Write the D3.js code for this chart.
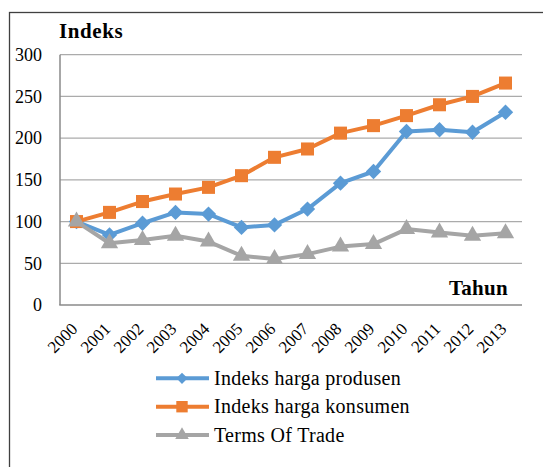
<!DOCTYPE html>
<html>
<head>
<meta charset="utf-8">
<script src="https://cdn.jsdelivr.net/npm/d3@7/dist/d3.min.js"></script>
<style>
  html, body { margin: 0; padding: 0; background: #fff; }
  svg { display: block; }
</style>
</head>
<body>
<svg id="chart" width="543" height="467"></svg>
<script>
const years = ["2000","2001","2002","2003","2004","2005","2006","2007","2008","2009","2010","2011","2012","2013"];
const produsen = [100, 84, 98, 111, 109, 93, 96, 115, 146, 160, 208, 210, 207, 231];
const konsumen = [100, 111, 124, 133, 141, 155, 177, 187, 206, 215, 227, 240, 250, 266];
const tot = [100, 74, 78, 83, 76, 59, 55, 61, 70, 73, 91, 87, 83, 86];
const yTicks = [0, 50, 100, 150, 200, 250, 300];
const seriesNames = ["Indeks harga produsen", "Indeks harga konsumen", "Terms Of Trade"];
const yTitle = "Indeks";
const xTitle = "Tahun";

const FONT = "'Liberation Serif', 'DejaVu Serif', serif";
const colors = ["#5b9bd5", "#ed7d31", "#a5a5a5"];
const shapes = [d3.symbolDiamond2, d3.symbolSquare, d3.symbolTriangle];

const svg = d3.select("#chart");

// outer frame
svg.append("rect").attr("x", 9.5).attr("y", 12.5).attr("width", 560).attr("height", 480)
  .attr("fill", "none").attr("stroke", "#404040").attr("stroke-width", 1.3);

const x = d3.scalePoint().domain(years).range([60, 522]).padding(0.5);
const y = d3.scaleLinear().domain([0, 300]).range([305, 54.7]);

// gridlines
svg.append("g").selectAll("line").data(yTicks.filter(d => d > 0)).join("line")
  .attr("x1", 60).attr("x2", 522)
  .attr("y1", d => y(d)).attr("y2", d => y(d))
  .attr("stroke", "#ababab").attr("stroke-width", 1.2);

// axes lines
svg.append("line").attr("x1", 60).attr("x2", 60).attr("y1", y(300)).attr("y2", y(0))
  .attr("stroke", "#8a8a8a").attr("stroke-width", 1.5);
svg.append("line").attr("x1", 59.25).attr("x2", 522).attr("y1", y(0)).attr("y2", y(0))
  .attr("stroke", "#8a8a8a").attr("stroke-width", 1.5);

// y tick labels
svg.append("g").selectAll("text").data(yTicks).join("text")
  .attr("x", 42).attr("y", d => y(d)).attr("dy", "0.35em")
  .attr("text-anchor", "end").attr("font-family", FONT).attr("font-size", 18)
  .text(d => d);

// x tick labels
svg.append("g").selectAll("text").data(years).join("text")
  .attr("text-anchor", "end").attr("font-family", FONT).attr("font-size", 17)
  .attr("transform", d => `translate(${x(d) + 2},${330}) rotate(-45)`)
  .text(d => d);

// titles
svg.append("text").attr("x", 59).attr("y", 38).attr("font-family", FONT).attr("font-size", 21)
  .attr("font-weight", "bold").attr("letter-spacing", 0.6).text(yTitle);
svg.append("text").attr("x", 508).attr("y", 295).attr("text-anchor", "end")
  .attr("font-family", FONT).attr("font-size", 21).attr("font-weight", "bold")
  .attr("letter-spacing", 0.3).text(xTitle);

// series
const allSeries = [produsen, konsumen, tot];
const line = d3.line().x((d, i) => x(years[i])).y(d => y(d));
const markerSizes = [150, 170, 130];

allSeries.forEach((vals, si) => {
  const g = svg.append("g");
  g.append("path").datum(vals).attr("d", line)
    .attr("fill", "none").attr("stroke", colors[si]).attr("stroke-width", 4)
    .attr("stroke-linejoin", "round");
  g.selectAll("path.m").data(vals).join("path").attr("class", "m")
    .attr("d", d3.symbol().type(shapes[si]).size(markerSizes[si]))
    .attr("transform", (d, i) => `translate(${x(years[i])},${y(d)})`)
    .attr("fill", colors[si]);
});

// legend
const legY = [378.3, 406.7, 435];
const leg = svg.append("g");
seriesNames.forEach((name, i) => {
  leg.append("line").attr("x1", 156).attr("x2", 209).attr("y1", legY[i]).attr("y2", legY[i])
    .attr("stroke", colors[i]).attr("stroke-width", 4);
  leg.append("path").attr("d", d3.symbol().type(shapes[i]).size([80, 130, 80][i])())
    .attr("transform", `translate(182,${legY[i]})`).attr("fill", colors[i]);
  leg.append("text").attr("x", 214).attr("y", legY[i] + 6.5).attr("font-family", FONT)
    .attr("font-size", 20).attr("letter-spacing", 0.3).text(name);
});
</script>
</body>
</html>
